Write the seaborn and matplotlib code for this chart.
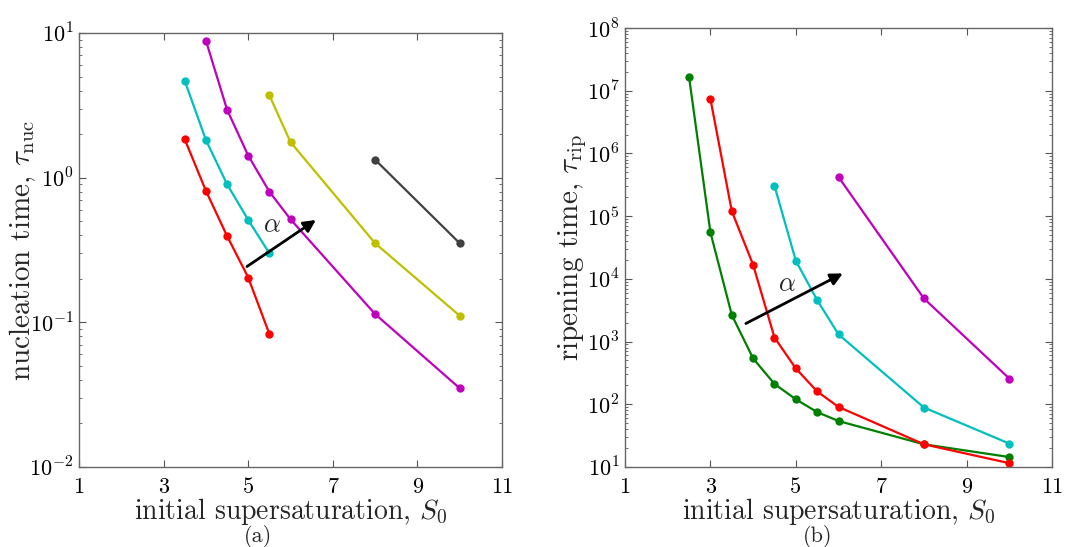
import numpy as np
import pandas as pd
import matplotlib
matplotlib.use("Agg")
import matplotlib.pyplot as plt
from matplotlib.ticker import FixedLocator, FuncFormatter, LogLocator, NullFormatter
import seaborn as sns

# ---- data (a): nucleation time ----
a_red_x = [3.5, 4.0, 4.5, 5.0, 5.5]
a_red_y = [1.84, 0.81, 0.395, 0.204, 0.083]
a_cyan_x = [3.5, 4.0, 4.5, 5.0, 5.5]
a_cyan_y = [4.66, 1.82, 0.90, 0.51, 0.30]
a_mag_x = [4.0, 4.5, 5.0, 5.5, 6.0, 8.0, 10.0]
a_mag_y = [8.85, 2.95, 1.42, 0.80, 0.515, 0.114, 0.035]
a_yel_x = [5.5, 6.0, 8.0, 10.0]
a_yel_y = [3.71, 1.76, 0.352, 0.111]
a_blk_x = [8.0, 10.0]
a_blk_y = [1.33, 0.352]

# ---- data (b): ripening time ----
b_grn_x = [2.5, 3.0, 3.5, 4.0, 4.5, 5.0, 5.5, 6.0, 8.0, 10.0]
b_grn_y = [1.64e7, 5.5e4, 2.66e3, 537, 211, 120, 75, 54, 23, 14.4]
b_red_x = [3.0, 3.5, 4.0, 4.5, 5.0, 5.5, 6.0, 8.0, 10.0]
b_red_y = [7.4e6, 1.2e5, 1.67e4, 1160, 372, 160, 90.6, 23, 11.5]
b_cyan_x = [4.5, 5.0, 5.5, 6.0, 8.0, 10.0]
b_cyan_y = [3.05e5, 1.94e4, 4570, 1300, 88.7, 23.6]
b_mag_x = [6.0, 8.0, 10.0]
b_mag_y = [4.2e5, 4860, 257]

x_ticks = [1, 3, 5, 7, 9, 11]

colors = {"red": (1, 0, 0), "cyan": (0, 0.75, 0.75), "magenta": (0.75, 0, 0.75),
          "yellow": (0.75, 0.75, 0), "black": (0.25, 0.25, 0.25), "green": (0, 0.5, 0)}

def long_df(series):
    frames = []
    for name, xs, ys in series:
        frames.append(pd.DataFrame({"S0": xs, "tau": ys, "series": name}))
    return pd.concat(frames, ignore_index=True)

df_a = long_df([("red", a_red_x, a_red_y), ("cyan", a_cyan_x, a_cyan_y),
                ("magenta", a_mag_x, a_mag_y), ("yellow", a_yel_x, a_yel_y),
                ("black", a_blk_x, a_blk_y)])
df_b = long_df([("green", b_grn_x, b_grn_y), ("red", b_red_x, b_red_y),
                ("cyan", b_cyan_x, b_cyan_y), ("magenta", b_mag_x, b_mag_y)])

sns.set_theme(style="ticks")
plt.rcParams["font.family"] = "serif"
plt.rcParams["font.serif"] = ["cmr10", "DejaVu Serif"]
plt.rcParams["mathtext.fontset"] = "cm"
plt.rcParams["axes.formatter.use_mathtext"] = True

fig = plt.figure(figsize=(10.81, 5.47), dpi=100)
ax1 = fig.add_axes([0.0731, 0.1463, 0.3913, 0.7934])
ax2 = fig.add_axes([0.5782, 0.1463, 0.3950, 0.8025])

def style_axes(ax, ylim):
    ax.set_yscale("log")
    ax.set_xlim(1, 11)
    ax.set_ylim(*ylim)
    ax.xaxis.set_major_locator(FixedLocator(x_ticks))
    ax.xaxis.set_major_formatter(FuncFormatter(lambda v, p: f"{int(round(v))}"))
    ax.yaxis.set_major_locator(LogLocator(base=10, numticks=20))
    ax.yaxis.set_minor_locator(LogLocator(base=10, subs=np.arange(2, 10), numticks=100))
    ax.yaxis.set_minor_formatter(NullFormatter())
    ax.yaxis.set_major_formatter(FuncFormatter(lambda v, p: r"$10^{%d}$" % int(round(np.log10(v)))))
    ax.tick_params(which="both", direction="in", top=True, right=True, colors="#555555",
                   labelcolor="black", labelsize=16)
    ax.tick_params(which="major", length=5, width=0.8)
    ax.tick_params(which="minor", length=2.5, width=0.6)
    ax.tick_params(axis="x", which="major", pad=7.5)
    ax.tick_params(axis="y", which="major", pad=4)
    for s in ax.spines.values():
        s.set_color("#666666")
        s.set_linewidth(1.0)
    ax.set_xlabel(r"initial supersaturation, $S_0$", fontsize=20)

for ax, df, ylim in [(ax1, df_a, (1e-2, 1e1)), (ax2, df_b, (1e1, 1e8))]:
    pal = {k: colors[k] for k in df["series"].unique()}
    sns.lineplot(data=df, x="S0", y="tau", hue="series", palette=pal, marker="o",
                 markersize=6, markeredgewidth=0, linewidth=1.6, estimator=None,
                 sort=False, legend=False, ax=ax)
    style_axes(ax, ylim)

ax1.set_ylabel(r"nucleation time, $\tau_{\mathrm{nuc}}$", fontsize=21)
ax2.set_ylabel(r"ripening time, $\tau_{\mathrm{rip}}$", fontsize=21)
ax1.yaxis.set_label_coords(-0.098, 0.5)
ax2.yaxis.set_label_coords(-0.085, 0.5)
ax1.xaxis.set_label_coords(0.5, -0.068)
ax2.xaxis.set_label_coords(0.5, -0.067)

arrow = dict(arrowstyle="-|>", color="black", lw=2, mutation_scale=18, shrinkA=0, shrinkB=0)
ax1.annotate("", xy=(6.6, 0.51), xytext=(4.97, 0.243), arrowprops=arrow)
ax1.text(5.56, 0.47, r"$\alpha$", fontsize=19, ha="center", va="center")
ax2.annotate("", xy=(6.1, 1.22e4), xytext=(3.83, 1940), arrowprops=arrow)
ax2.text(4.79, 8130, r"$\alpha$", fontsize=19, ha="center", va="center")

fig.text(0.2388, 0.019, "(a)", fontsize=16, ha="center", va="center")
fig.text(0.7567, 0.019, "(b)", fontsize=16, ha="center", va="center")

fig.savefig("out.png", dpi=100)
